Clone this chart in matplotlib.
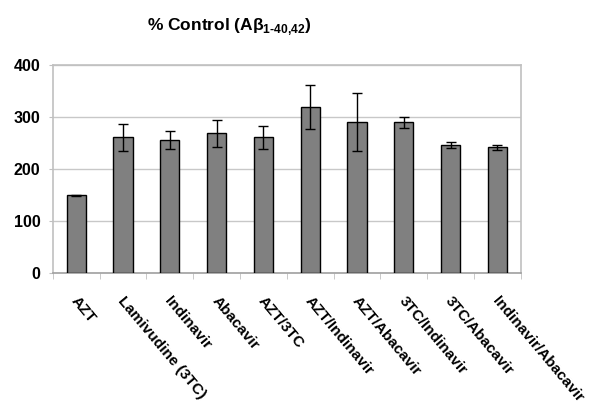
import numpy as np
import matplotlib
matplotlib.use("Agg")
import matplotlib.pyplot as plt
import matplotlib.transforms as mtransforms

plt.rcParams['font.family'] = ['Liberation Sans', 'DejaVu Sans']
plt.rcParams['mathtext.fontset'] = 'custom'
plt.rcParams['mathtext.rm'] = 'Liberation Sans:bold'
plt.rcParams['mathtext.bf'] = 'Liberation Sans:bold'

# データ
labels = ["AZT", "Lamivudine (3TC)", "Indinavir", "Abacavir", "AZT/3TC",
          "AZT/Indinavir", "AZT/Abacavir", "3TC/Indinavir", "3TC/Abacavir",
          "Indinavir/Abacavir"]
values = [150, 261, 256, 269, 261, 319, 290, 290, 247, 242]
errors = [1, 26, 17, 26, 22, 42, 56, 10, 5.5, 5]
yticks = [0, 100, 200, 300, 400]

fig = plt.figure(figsize=(6, 4.15), dpi=100)
ax = fig.add_axes([0.088, 0.342, 0.78, 0.501])

x = np.arange(len(labels))
ax.bar(x, values, width=0.41, color="#808080", edgecolor="black", linewidth=1, zorder=3)
ax.errorbar(x, values, yerr=errors, fmt="none", ecolor="black", elinewidth=1,
            capsize=3.5, capthick=1, zorder=4)

ax.set_xlim(-0.5, len(labels) - 0.5)
ax.set_ylim(0, 400)
ax.set_yticks(yticks)
ax.set_yticklabels([str(v) for v in yticks], fontsize=11.5, fontweight="bold")
ax.grid(axis="y", color="#c8c8c8", linewidth=1, zorder=0)

ax.set_xticks(x)
ax.set_xticklabels(labels, rotation=-50, ha="left", va="top", rotation_mode="anchor",
                   fontsize=11, fontweight="bold")
ax.set_xticks(np.arange(len(labels) + 1) - 0.5, minor=True)
ax.tick_params(axis="x", which="major", length=0, pad=15)
ax.tick_params(axis="x", which="minor", length=4, color="#c0c0c0", direction="out")
ax.tick_params(axis="y", length=3, color="#c0c0c0", pad=6)

# ラベルを少し右へ
shift = mtransforms.ScaledTranslation(3 / 100, 0, fig.dpi_scale_trans)
for t in ax.get_xticklabels():
    t.set_transform(t.get_transform() + shift)

for s in ["top", "right", "left"]:
    ax.spines[s].set_color("#c0c0c0")
    ax.spines[s].set_linewidth(1.2)
ax.spines["bottom"].set_color("#a0a0a0")
ax.spines["bottom"].set_linewidth(1.2)

fig.text(0.382, 0.935, r"% Control (Aβ$_{\text{1-40,42}}$)", ha="center", va="center",
         fontsize=12.5, fontweight="bold")

fig.savefig("out.png", dpi=100)
